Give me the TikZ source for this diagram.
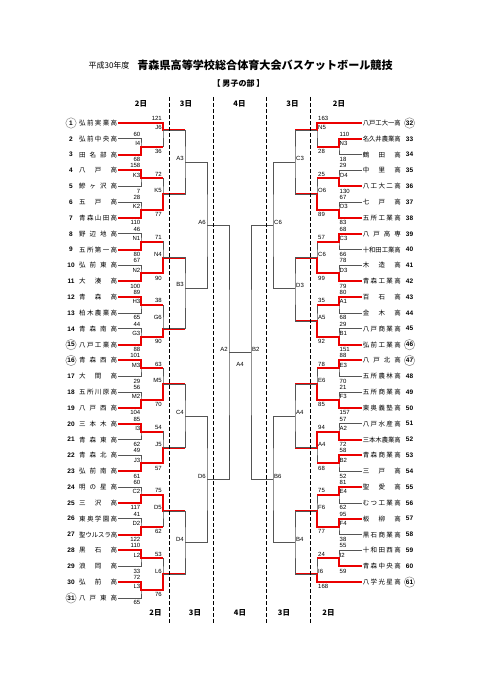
\documentclass[tikz,border=0pt]{standalone}
\usepackage{fontspec}
\usepackage{graphicx}
\setmainfont{Liberation Sans}
\newfontfamily\jp{Noto Sans CJK JP}
\usetikzlibrary{calc,backgrounds}

\definecolor{winred}{RGB}{235,0,0}
\definecolor{bracketgray}{RGB}{85,85,85}

% team names are spread over a fixed width
\newlength\namew
\setlength\namew{38bp}
\newsavebox\namebox
\def\spreadchars#1#2{#1\ifx\relax#2\else\hfil\expandafter\spreadchars\expandafter#2\fi}
\newcommand\teamname[1]{%
  \sbox\namebox{\jp #1}%
  \ifdim\wd\namebox>\namew
    \resizebox{\namew}{\height}{\usebox\namebox}%
  \else
    \makebox[\namew][s]{\jp\expandafter\spreadchars#1\relax}%
  \fi}

\tikzset{
  gline/.style={draw=bracketgray,line width=0.8bp},
  rline/.style={draw=winred,line width=2bp},
  dayline/.style={draw=black,line width=1.3bp,dash pattern=on 4bp off 2bp},
  team/.style={inner xsep=0.6bp,inner ysep=0pt,font=\fontsize{6.5bp}{7bp}\selectfont},
  teamno/.style={inner sep=0pt,font=\fontsize{6.5bp}{7bp}\selectfont\bfseries},
  ringno/.style={circle,draw=black!45,line width=0.5bp,minimum size=10.5bp,inner sep=0pt},
  score/.style={inner sep=0pt,font=\fontsize{6bp}{7bp}\selectfont},
  mlabel/.style={inner sep=0pt,font=\fontsize{6bp}{7bp}\selectfont},
  dayhead/.style={inner sep=0pt,font=\jp\bfseries\fontsize{7.5bp}{8bp}\selectfont}
}

\begin{document}
\begin{tikzpicture}[x=1bp,y=-1bp]
  \useasboundingbox (0,0) rectangle (481,680);

  % title
  \node[inner sep=0pt,font=\jp\fontsize{8bp}{9bp}\selectfont] (year) at (109,65.5) {平成30年度};
  \node[inner sep=0pt,font=\jp\bfseries\fontsize{11.1bp}{12bp}\selectfont] (title) at (265,65) {青森県高等学校総合体育大会バスケットボール競技};
  \node[inner sep=0pt,font=\jp\bfseries\fontsize{8bp}{9bp}\selectfont] (part) at (238.5,83.5) {【\ 男子の部\ 】};

  % days
  \foreach \dy/\xh/\xf [count=\k] in {2日/141/155.5,3日/186/195,4日/239.5/240,3日/292.5/284,2日/339/328.5}{
    \node[dayhead] (hd\k) at (\xh,103.5) {\dy};
    \node[dayhead] (ft\k) at (\xf,612.5) {\dy};
  }

  % teams
  \foreach \nm [count=\i] in {弘前実業高,弘前中央高,田名部高,八戸高,鰺ヶ沢高,五戸高,青森山田高,野辺地高,五所第一高,弘前東高,大湊高,青森高,柏木農業高,青森南高,八戸工業高,青森西高,大間高,五所川原高,八戸西高,三本木高,青森東高,青森北高,弘前南高,明の星高,三沢高,東奥学園高,聖ウルスラ高,黒石高,浪岡高,弘前高,八戸東高}{
    \node[team,anchor=east] (t\i) at (118,{123+(\i-1)*15.83}) {\teamname{\nm}};
    \node[teamno] (no\i) at (71,{123+(\i-1)*15.83}) {\i};
  }
  \foreach \nm [count=\i from 32] in {八戸工大一高,名久井農業高,鶴田高,中里高,八工大二高,七戸高,五所工業高,八戸高専,十和田工業高,木造高,青森工業高,百石高,金木高,八戸商業高,弘前工業高,八戸北高,五所農林高,五所商業高,東奥義塾高,八戸水産高,三本木農業高,青森商業高,三戸高,聖愛高,むつ工業高,板柳高,黒石商業高,十和田西高,青森中央高,八学光星高}{
    \node[team,anchor=west] (t\i) at (362,{123+(\i-32)*15.83}) {\teamname{\nm}};
    \node[teamno] (no\i) at (409.5,{123+(\i-32)*15.83}) {\i};
  }
  \foreach \i in {1,15,16,31,32,46,47,61}
    \node[ringno] (ring\i) at (no\i) {};

  % left, day 2 first games
  \foreach \m/\a/\b/\sa/\sb/\w in {I4/2/3/60/68/3,K3/4/5/158/7/4,K2/6/7/28/110/7,N1/8/9/46/80/9,N2/10/11/67/100/11,H3/12/13/89/65/12,G3/14/15/44/88/15,M3/16/17/101/29/16,M2/18/19/56/104/19,I3/20/21/85/62/20,J3/22/23/49/61/23,C2/24/25/60/117/25,D2/26/27/41/122/27,L2/28/29/110/33/28,L3/30/31/72/65/30}{
    \coordinate (l1\m) at ($(t\a.east)!0.5!(t\b.east)+(23,0)$);
    \begin{scope}[on background layer]
      \draw[gline] (t\a.east) -| (l1\m) |- (t\b.east);
    \end{scope}
    \draw[rline] (t\w.east) -| (l1\m) -- ++(22,0);
    \node[score,anchor=south east] (l1\m-a) at ($(t\a.east -| l1\m)+(-0.5,-2.4)$) {\sa};
    \node[score,anchor=north east] (l1\m-b) at ($(t\b.east -| l1\m)+(-0.5,2.4)$) {\sb};
    \node[mlabel,anchor=east] (l1\m-n) at ($(l1\m)+(-0.5,-3.4)$) {\m};
  }
  % right, day 2 first games
  \foreach \m/\a/\b/\sa/\sb/\w in {N3/33/34/110/18/33,O4/35/36/29/130/36,O3/37/38/67/83/38,C3/39/40/68/66/39,D3/41/42/78/79/42,A1/43/44/80/68/43,B1/45/46/29/151/46,E3/47/48/88/70/47,F3/49/50/21/157/50,A2/51/52/57/72/52,B2/53/54/58/52/53,E4/55/56/81/62/55,F4/57/58/95/38/57,I2/59/60/55/59/60}{
    \coordinate (r1\m) at ($(t\a.west)!0.5!(t\b.west)+(-23,0)$);
    \begin{scope}[on background layer]
      \draw[gline] (t\a.west) -| (r1\m) |- (t\b.west);
    \end{scope}
    \draw[rline] (t\w.west) -| (r1\m) -- ++(-22,0);
    \node[score,anchor=south west] (r1\m-a) at ($(t\a.west -| r1\m)+(0.5,-2.4)$) {\sa};
    \node[score,anchor=north west] (r1\m-b) at ($(t\b.west -| r1\m)+(0.5,2.4)$) {\sb};
    \node[mlabel,anchor=west] (r1\m-n) at ($(r1\m)+(0.5,-3.4)$) {\m};
  }

  % left, day 2 second games
  \foreach \m/\p/\q/\sa/\sb/\w/\yo/\yl in {J6/t1.east/l1I4/121/36/t1.east/130/127.5,K5/l1K3/l1K2/72/77/l1K2/194.2/190.7,N4/l1N1/l1N2/71/90/l1N2/257.5/254.3,G6/l1H3/l1G3/38/90/l1G3/328.5/317,M5/l1M3/l1M2/63/70/l1M2/384.2/380.5,J5/l1I3/l1J3/54/57/l1J3/447.5/444.3,D5/l1C2/l1D2/75/62/l1C2/510.9/507.7,L6/l1L2/l1L3/53/76/l1L3/574.2/571}{
    \coordinate (l2\m) at (163,\yo);
    \begin{scope}[on background layer]
      \draw[gline] (\p) -| (l2\m) |- (\q);
    \end{scope}
    \draw[rline] (\w) -| (l2\m) -- ++(22,0);
    \node[score,anchor=south east] (l2\m-a) at ($(\p -| l2\m)+(-1,-1.9)$) {\sa};
    \node[score,anchor=north east] (l2\m-b) at ($(\q -| l2\m)+(-1,2.5)$) {\sb};
    \node[mlabel,anchor=east] (l2\m-n) at (162,\yl) {\m};
  }
  % right, day 2 second games
  \foreach \m/\p/\q/\sa/\sb/\w/\yo/\yl in {N5/t32.west/r1N3/163/28/t32.west/130/127.7,O6/r1O4/r1O3/25/89/r1O3/194.2/190.7,C6/r1C3/r1D3/57/99/r1D3/257.5/254.3,A5/r1A1/r1B1/35/92/r1B1/321.3/317.3,E6/r1E3/r1F3/78/85/r1F3/384.2/380,A4/r1A2/r1B2/94/68/r1A2/447.5/444.3,F6/r1E4/r1F4/75/77/r1F4/510.9/507.7,I6/r1I2/t61.west/24/168/t61.west/574.3/571}{
    \coordinate (r2\m) at (317,\yo);
    \begin{scope}[on background layer]
      \draw[gline] (\p) -| (r2\m) |- (\q);
    \end{scope}
    \draw[rline] (\w) -| (r2\m) -- ++(-22,0);
    \node[score,anchor=south west] (r2\m-a) at ($(\p -| r2\m)+(1,-1.9)$) {\sa};
    \node[score,anchor=north west] (r2\m-b) at ($(\q -| r2\m)+(1,2.5)$) {\sb};
    \node[mlabel,anchor=west] (r2\m-n) at (318,\yl) {\m};
  }

  % day 3
  \foreach \m/\p/\q/\yo in {A3/l2J6/l2K5/162.1,B3/l2N4/l2G6/288.3,C4/l2M5/l2J5/415.9,D4/l2D5/l2L6/542.5}{
    \coordinate (l3\m) at (185,\yo);
    \draw[gline] (\p) -| (l3\m) |- (\q);
    \node[mlabel,anchor=east] (l3\m-n) at ($(l3\m)+(-1,-3.5)$) {\m};
  }
  \foreach \m/\p/\q/\yo in {C3/r2N5/r2O6/162.1,D3/r2C6/r2A5/288.7,A4/r2E6/r2A4/415.9,B4/r2F6/r2I6/542.6}{
    \coordinate (r3\m) at (295,\yo);
    \draw[gline] (\p) -| (r3\m) |- (\q);
    \node[mlabel,anchor=west] (r3\m-n) at ($(r3\m)+(1,-3.5)$) {\m};
  }
  \foreach \m/\p/\q/\yo in {A6/l3A3/l3B3/225.8,D6/l3C4/l3D4/479.2}{
    \coordinate (l4\m) at (207,\yo);
    \draw[gline] (\p) -| (l4\m) |- (\q);
    \node[mlabel,anchor=east] (l4\m-n) at ($(l4\m)+(-1,-3)$) {\m};
  }
  \foreach \m/\p/\q/\yo in {C6/r3C3/r3D3/225.8,B6/r3A4/r3B4/479.2}{
    \coordinate (r4\m) at (273,\yo);
    \draw[gline] (\p) -| (r4\m) |- (\q);
    \node[mlabel,anchor=west] (r4\m-n) at ($(r4\m)+(1,-3)$) {\m};
  }

  % day 4
  \coordinate (l5A2) at (229,352.6);
  \coordinate (r5B2) at (251,352.6);
  \draw[gline] (l4A6) -| (l5A2) |- (l4D6);
  \draw[gline] (r4C6) -| (r5B2) |- (r4B6);
  \draw[gline] (l5A2) -- (r5B2);
  \node[mlabel,anchor=east] (l5A2-n) at ($(l5A2)+(-1,-3.5)$) {A2};
  \node[mlabel,anchor=west] (r5B2-n) at ($(r5B2)+(1,-3.5)$) {B2};
  \node[mlabel] (final-n) at ($(l5A2)!0.5!(r5B2)+(0,11.5)$) {A4};

  % day borders
  \foreach \xd in {169.3,213.3,266.7,310.7}
    \draw[dayline] (\xd,97) -- (\xd,624);
\end{tikzpicture}
\end{document}
